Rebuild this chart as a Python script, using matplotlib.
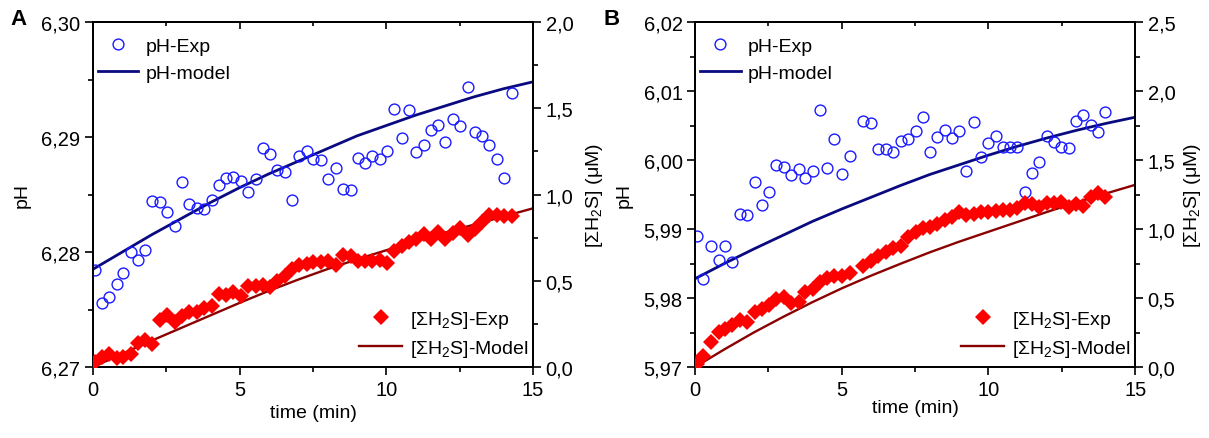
import matplotlib
matplotlib.use("Agg")
import matplotlib.pyplot as plt
from matplotlib.ticker import FuncFormatter, MultipleLocator
from matplotlib.lines import Line2D

plt.rcParams["font.family"] = ["Liberation Sans", "DejaVu Sans"]
plt.rcParams["mathtext.fontset"] = "custom"
plt.rcParams["mathtext.rm"] = "Liberation Sans"
plt.rcParams["mathtext.default"] = "regular"

# ---- panel A data ----
time_a = [0.07, 0.30, 0.55, 0.81, 1.03, 1.29, 1.54, 1.79, 2.02, 2.27, 2.54, 2.80,
          3.03, 3.28, 3.54, 3.79, 4.05, 4.29, 4.53, 4.78, 5.03, 5.29, 5.55, 5.79,
          6.03, 6.27, 6.53, 6.77, 7.02, 7.28, 7.51, 7.77, 8.02, 8.27, 8.53, 8.78,
          9.04, 9.28, 9.52, 9.78, 10.03, 10.27, 10.52, 10.77, 11.02, 11.27, 11.52,
          11.76, 12.01, 12.26, 12.52, 12.77, 13.02, 13.27, 13.51, 13.76, 14.02, 14.27]
ph_exp_a = [6.27846, 6.27557, 6.27606, 6.27722, 6.27815, 6.27997, 6.27933, 6.28020,
            6.28446, 6.28432, 6.28345, 6.28223, 6.28609, 6.28417, 6.28383, 6.28374,
            6.28448, 6.28583, 6.28641, 6.28655, 6.28620, 6.28524, 6.28635, 6.28902,
            6.28852, 6.28716, 6.28693, 6.28455, 6.28832, 6.28876, 6.28809, 6.28803,
            6.28635, 6.28730, 6.28548, 6.28542, 6.28817, 6.28771, 6.28837, 6.28809,
            6.28881, 6.29243, 6.28991, 6.29237, 6.28872, 6.28933, 6.29061, 6.29107,
            6.28959, 6.29157, 6.29098, 6.29432, 6.29046, 6.29011, 6.28933, 6.28809,
            6.28643, 6.29380]
h2s_exp_a = [0.031, 0.056, 0.075, 0.050, 0.056, 0.075, 0.139, 0.157, 0.133, 0.272,
             0.303, 0.263, 0.297, 0.317, 0.317, 0.340, 0.356, 0.423, 0.417, 0.437,
             0.413, 0.468, 0.471, 0.475, 0.462, 0.500, 0.529, 0.568, 0.591, 0.597,
             0.610, 0.610, 0.616, 0.591, 0.649, 0.641, 0.616, 0.616, 0.616, 0.622,
             0.601, 0.674, 0.703, 0.727, 0.742, 0.771, 0.742, 0.781, 0.742, 0.777,
             0.804, 0.765, 0.800, 0.839, 0.881, 0.881, 0.874, 0.874]
t_model = [0, 1, 2, 3, 4, 5, 6, 7, 8, 9, 10, 11, 12, 13, 14, 15]
ph_model_a = [6.2785, 6.2800, 6.2815, 6.2829, 6.2843, 6.2856, 6.2868, 6.2879,
              6.2890, 6.2901, 6.2910, 6.2919, 6.2927, 6.2935, 6.2942, 6.2948]
h2s_model_a = [0, 0.077, 0.153, 0.226, 0.299, 0.372, 0.442, 0.507, 0.568, 0.624,
               0.677, 0.730, 0.779, 0.826, 0.873, 0.920]

# ---- panel B data ----
time_b = [0.06, 0.28, 0.53, 0.80, 1.03, 1.27, 1.53, 1.78, 2.03, 2.27, 2.52, 2.76,
          3.03, 3.28, 3.53, 3.76, 4.01, 4.27, 4.51, 4.75, 5.02, 5.28, 5.74, 6.00,
          6.25, 6.51, 6.76, 7.01, 7.26, 7.52, 7.77, 8.02, 8.26, 8.51, 8.75, 9.00,
          9.25, 9.51, 9.75, 10.00, 10.25, 10.49, 10.74, 10.99, 11.25, 11.50, 11.74,
          11.99, 12.24, 12.48, 12.73, 12.98, 13.24, 13.49, 13.74, 13.99]
ph_exp_b = [5.98894, 5.98275, 5.98749, 5.98555, 5.98758, 5.98517, 5.99217, 5.99203,
            5.99677, 5.99348, 5.99532, 5.99932, 5.99894, 5.99787, 5.99870, 5.99739,
            5.99845, 6.00729, 5.99880, 6.00304, 5.99797, 6.00063, 6.00561, 6.00532,
            6.00159, 6.00159, 6.00111, 6.00280, 6.00304, 6.00425, 6.00628, 6.00120,
            6.00329, 6.00435, 6.00314, 6.00416, 5.99845, 6.00555, 6.00039, 6.00246,
            6.00343, 6.00193, 6.00193, 6.00193, 5.99532, 5.99812, 5.99967, 6.00353,
            6.00257, 6.00193, 6.00174, 6.00561, 6.00652, 6.00512, 6.00401, 6.00700]
h2s_exp_b = [0.022, 0.082, 0.179, 0.251, 0.275, 0.304, 0.343, 0.328, 0.401, 0.420,
             0.449, 0.493, 0.505, 0.464, 0.473, 0.541, 0.565, 0.614, 0.643, 0.662,
             0.662, 0.681, 0.730, 0.770, 0.807, 0.831, 0.860, 0.879, 0.940, 0.976,
             1.005, 1.012, 1.036, 1.068, 1.085, 1.121, 1.101, 1.109, 1.121, 1.126,
             1.133, 1.140, 1.140, 1.150, 1.188, 1.181, 1.157, 1.188, 1.188, 1.198,
             1.157, 1.181, 1.169, 1.230, 1.261, 1.230]
ph_model_b = [5.9828, 5.9850, 5.9871, 5.9891, 5.9911, 5.9929, 5.9946, 5.9963,
              5.9979, 5.9993, 6.0007, 6.0020, 6.0032, 6.0043, 6.0053, 6.0062]
h2s_model_b = [0, 0.128, 0.250, 0.363, 0.470, 0.570, 0.662, 0.748, 0.831, 0.908,
               0.980, 1.052, 1.124, 1.193, 1.257, 1.320]

BLUE = "#1a1aff"
NAVY = "#0a0a80"
RED = "#ff0000"
DARKRED = "#8b0000"
FS = 14


def comma(fmt):
    return FuncFormatter(lambda v, p: format(v, fmt).replace(".", ","))


def panel(rect, letter, letter_x, t, ph, h2s, ph_m, h2s_m,
          ylim, y2lim, xlabelpad, y2labelpad):
    ax = fig.add_axes(rect)
    ax2 = ax.twinx()
    ax.plot(t, ph, "o", mfc="none", mec=BLUE, ms=7.8, mew=1.0, zorder=3)
    ax.plot(t_model, ph_m, "-", color=NAVY, lw=2.0, zorder=2)
    ax2.plot(t, h2s, "D", color=RED, ms=7.8, mew=0, zorder=3)
    ax2.plot(t_model, h2s_m, "-", color=DARKRED, lw=1.7, zorder=2)

    ax.set_xlim(0, 15)
    ax.set_ylim(*ylim)
    ax2.set_ylim(*y2lim)
    ax.xaxis.set_major_locator(MultipleLocator(5))
    ax.xaxis.set_minor_locator(MultipleLocator(2.5))
    ax.yaxis.set_major_locator(MultipleLocator(0.01))
    ax.yaxis.set_minor_locator(MultipleLocator(0.005))
    ax2.yaxis.set_major_locator(MultipleLocator(0.5))
    ax2.yaxis.set_minor_locator(MultipleLocator(0.25))
    ax.xaxis.set_major_formatter(comma(".0f"))
    ax.yaxis.set_major_formatter(comma(".2f"))
    ax2.yaxis.set_major_formatter(comma(".1f"))

    for a in (ax, ax2):
        for sp in a.spines.values():
            sp.set_linewidth(1.3)
        a.tick_params(which="major", direction="out", length=6, width=1.2,
                      labelsize=FS + 0.5, pad=3)
        a.tick_params(which="minor", direction="out", length=3.5, width=1.2)

    sec = ax.secondary_xaxis("top")
    sec.xaxis.set_major_locator(MultipleLocator(5))
    sec.xaxis.set_minor_locator(MultipleLocator(2.5))
    sec.tick_params(which="major", direction="in", length=5, width=1.2, labeltop=False)
    sec.tick_params(which="minor", direction="in", length=3, width=1.2)
    sec.spines["top"].set_linewidth(1.3)

    ax.set_xlabel("time (min)", fontsize=FS, labelpad=xlabelpad)
    ax.set_ylabel("pH", fontsize=FS, labelpad=8)
    ax2.set_ylabel("[ΣH$_2$S] (μM)", fontsize=FS, labelpad=y2labelpad)

    h1 = [Line2D([], [], ls="none", marker="o", mfc="none", mec=BLUE, ms=7.8, mew=1.0),
          Line2D([], [], color=NAVY, lw=2.0)]
    ax.legend(h1, ["pH-Exp", "pH-model"], loc="upper left", frameon=False,
              fontsize=FS, handlelength=2.1, handletextpad=0.35,
              labelspacing=0.5, borderaxespad=0.2, bbox_to_anchor=(-0.016, 0.99))
    h2 = [Line2D([], [], ls="none", marker="D", color=RED, ms=7.8, mew=0),
          Line2D([], [], color=DARKRED, lw=1.7)]
    ax2.legend(h2, ["[ΣH$_2$S]-Exp", "[ΣH$_2$S]-Model"], loc="lower right",
               frameon=False, fontsize=FS, handlelength=2.2, handletextpad=0.4,
               labelspacing=0.4, borderaxespad=0.2, bbox_to_anchor=(1.016, -0.01))
    fig.text(letter_x, 0.955, letter, fontsize=16, fontweight="bold", va="center")
    return ax, ax2


fig = plt.figure(figsize=(12.09, 4.39), dpi=100)
panel([0.0769, 0.1617, 0.3640, 0.7859], "A", 0.009, time_a, ph_exp_a, h2s_exp_a,
      ph_model_a, h2s_model_a, (6.27, 6.30), (0.0, 2.0), 4, 8)
panel([0.5749, 0.1617, 0.3640, 0.7859], "B", 0.499, time_b, ph_exp_b, h2s_exp_b,
      ph_model_b, h2s_model_b, (5.97, 6.02), (0.0, 2.5), 0, 5)

fig.savefig("out.png", dpi=100)
